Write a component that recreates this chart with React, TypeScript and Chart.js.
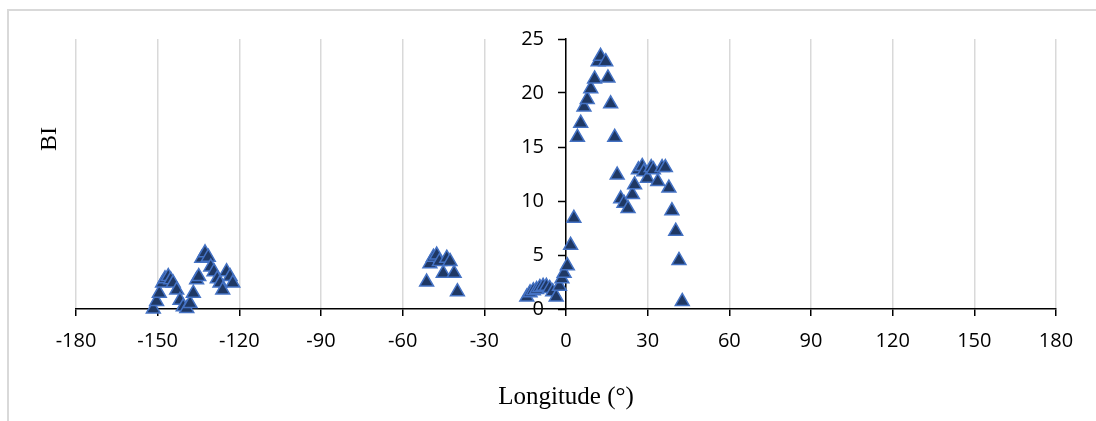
import React, { useEffect, useRef } from "react";
import { Chart, registerables } from "chart.js";

Chart.register(...registerables);

// Western cluster
const westLon = [-151.6, -150.4, -149.4, -148.2, -147.3, -146.1, -145.2, -144.3, -143.0, -141.8, -140.6, -139.3, -138.1, -136.9, -135.7, -134.9, -133.8, -132.6, -131.4, -130.5, -129.3, -128.1, -127.1, -126.1, -124.7, -123.4, -122.4];
const westBI = [0.0, 0.7, 1.45, 2.4, 2.8, 3.0, 2.7, 2.4, 1.75, 0.8, 0.2, 0.05, 0.5, 1.45, 2.7, 3.0, 4.7, 5.2, 4.8, 3.9, 3.45, 2.8, 2.4, 1.75, 3.45, 3.0, 2.4];

// Middle cluster
const midLon = [-51.2, -50.0, -48.7, -47.5, -46.5, -45.1, -43.8, -42.6, -41.1, -39.9];
const midBI = [2.5, 4.2, 4.8, 5.0, 4.4, 3.3, 4.7, 4.4, 3.3, 1.6];

// Eastern cluster
const eastLon = [-14.4, -13.2, -12.0, -10.8, -9.6, -8.4, -7.2, -6.0, -4.9, -3.6, -2.4, -1.5, -0.7, 0.5, 1.7, 2.9, 4.2, 5.4, 6.6, 7.8, 9.1, 10.5, 11.8, 12.7, 14.6, 15.4, 16.4, 17.9, 18.8, 20.1, 21.3, 22.8, 24.4, 25.2, 26.6, 28.0, 28.6, 29.9, 31.3, 32.1, 33.7, 35.3, 36.5, 37.8, 38.9, 40.3, 41.5, 42.7];
const eastBI = [1.1, 1.5, 1.7, 1.8, 2.0, 2.1, 2.1, 1.9, 1.6, 1.1, 2.1, 2.8, 3.3, 4.0, 5.9, 8.4, 15.9, 17.2, 18.7, 19.4, 20.4, 21.3, 22.9, 23.4, 22.9, 21.4, 19.0, 15.9, 12.4, 10.2, 9.8, 9.3, 10.6, 11.5, 12.9, 13.2, 12.7, 12.1, 13.1, 12.9, 11.8, 13.1, 13.1, 11.2, 9.1, 7.2, 4.5, 0.7];

const xMin = -180;
const xMax = 180;
const xStep = 30;
const yMin = 0;
const yMax = 25;
const yStep = 5;
const yCross = 0;
const xTitle = "Longitude (°)";
const yTitle = "BI";

const W = 1096;
const H = 421;
const Y_TICK_LEN = 7;
const Y_TICK_PAD = 15;

function toPoints(lons: number[], vals: number[]) {
  return lons.map((x, i) => ({ x, y: vals[i] }));
}

export default function App() {
  const ref = useRef<HTMLCanvasElement | null>(null);

  useEffect(() => {
    if (!ref.current) return;
    const points = [
      ...toPoints(westLon, westBI),
      ...toPoints(midLon, midBI),
      ...toPoints(eastLon, eastBI),
    ];

    // place the y tick labels to the left of the crossing y axis
    const shiftYLabels = {
      id: "shiftYLabels",
      afterLayout(chart: any) {
        const y = chart.scales.y;
        if (y.__patched) return;
        y.__patched = true;
        const orig = y._computeLabelItems.bind(y);
        y._computeLabelItems = (ca: any) => {
          const items = orig(ca);
          const px = chart.scales.x.getPixelForValue(yCross) - Y_TICK_LEN - Y_TICK_PAD;
          return items.map((it: any) => ({
            ...it,
            options: {
              ...it.options,
              textAlign: "right",
              translation: [px, it.options.translation[1]],
            },
          }));
        };
      },
    };

    const yTitlePlugin = {
      id: "yTitlePlugin",
      afterDraw(chart: any) {
        const ctx = chart.ctx;
        ctx.save();
        ctx.translate(49.5, 139);
        ctx.rotate(-Math.PI / 2);
        ctx.font = '24px "Liberation Serif", "Times New Roman", serif';
        ctx.fillStyle = "#000";
        ctx.textAlign = "center";
        ctx.textBaseline = "middle";
        ctx.fillText(yTitle, 0, 0);
        ctx.restore();
      },
    };

    const tickFont = { family: "'Open Sans', sans-serif", size: 20 };

    const chart = new Chart(ref.current, {
      type: "scatter",
      data: {
        datasets: [
          {
            label: "BI",
            data: points,
            pointStyle: "triangle",
            pointRadius: 8,
            pointHoverRadius: 8,
            backgroundColor: "#1f3864",
            borderColor: "#4472c4",
            borderWidth: 1.5,
            clip: false as any,
          },
        ],
      },
      options: {
        animation: false,
        responsive: false,
        devicePixelRatio: 1,
        layout: { padding: { left: 76, right: 40, top: 39, bottom: 0 } },
        plugins: {
          legend: { display: false },
          tooltip: { enabled: false },
        },
        scales: {
          x: {
            type: "linear",
            position: "bottom",
            min: xMin,
            max: xMax,
            afterFit: (s: any) => {
              s.height = 112;
            },
            ticks: {
              stepSize: xStep,
              color: "#000",
              font: tickFont,
              padding: 13,
              maxRotation: 0,
              autoSkip: false,
            },
            grid: {
              color: "#d9d9d9",
              lineWidth: 1.5,
              tickColor: "#000",
              tickLength: 7,
              tickWidth: 1.5,
            },
            border: { color: "#000", width: 1.5 },
            title: {
              display: true,
              text: xTitle,
              color: "#000",
              font: { family: "'Liberation Serif', 'Times New Roman', serif", size: 25 },
              padding: { top: 0, bottom: 9 },
            },
          },
          y: {
            type: "linear",
            position: { x: yCross } as any,
            min: yMin,
            max: yMax,
            ticks: {
              stepSize: yStep,
              color: "#000",
              font: tickFont,
              padding: Y_TICK_PAD,
            },
            grid: {
              drawOnChartArea: false,
              drawTicks: true,
              tickColor: "#000",
              tickLength: Y_TICK_LEN,
              tickWidth: 1.5,
            },
            border: { color: "#000", width: 1.5 },
          },
        },
      },
      plugins: [shiftYLabels, yTitlePlugin],
    });

    return () => chart.destroy();
  }, []);

  return (
    <div style={{ position: "absolute", left: 0, top: 0, width: W, height: H, background: "#fff" }}>
      <div
        style={{
          position: "absolute",
          left: 7,
          top: 9,
          width: W - 7,
          height: H - 9,
          borderLeft: "2px solid #d9d9d9",
          borderTop: "2px solid #d9d9d9",
          boxSizing: "border-box",
        }}
      />
      <canvas ref={ref} width={W} height={H} style={{ position: "absolute", left: 0, top: 0, width: W, height: H }} />
    </div>
  );
}
